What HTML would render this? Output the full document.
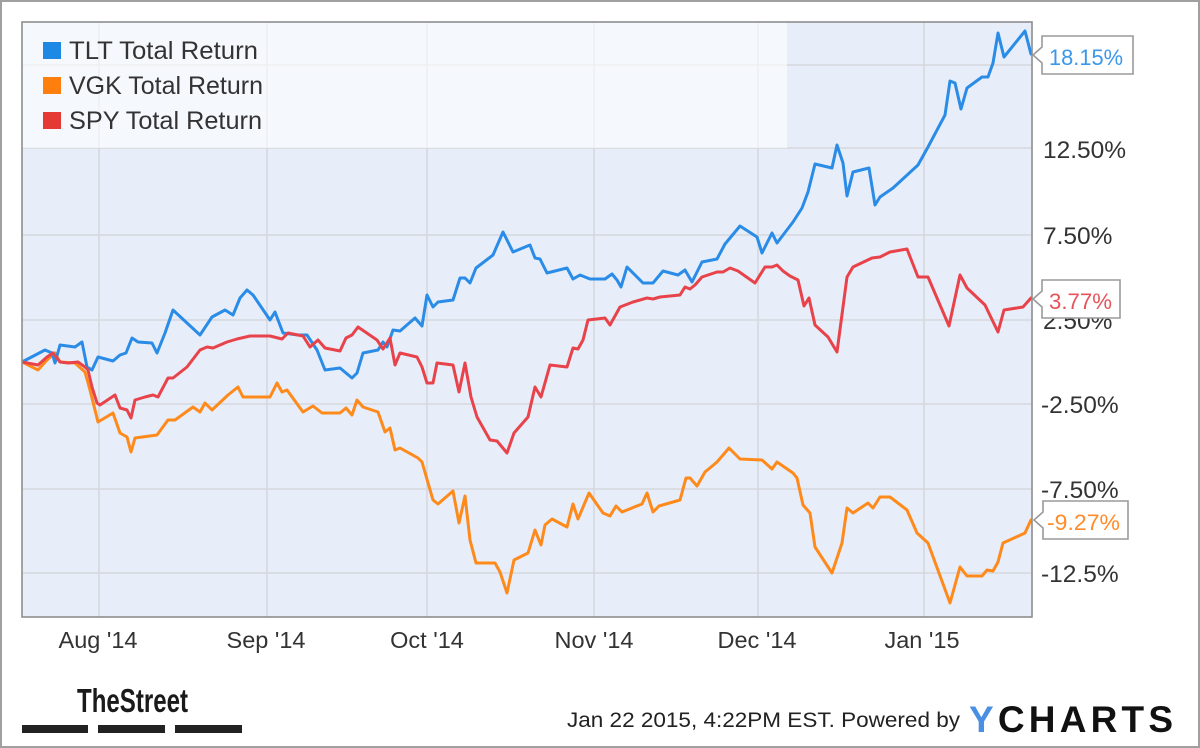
<!DOCTYPE html>
<html><head><meta charset="utf-8"><style>
html,body{margin:0;padding:0;background:#fff;}
svg{display:block;}
text{font-family:"Liberation Sans",Arial,sans-serif;}
</style></head><body>
<svg width="1200" height="748" viewBox="0 0 1200 748" xmlns="http://www.w3.org/2000/svg">
<rect x="0" y="0" width="1200" height="748" fill="#fff"/>
<rect x="1" y="1" width="1198" height="746" fill="none" stroke="#a0a0a0" stroke-width="2"/>
<defs><clipPath id="pc"><rect x="22" y="22" width="1010" height="595"/></clipPath></defs>
<rect x="22" y="22" width="1010" height="595" fill="#e7eefa"/>
<g stroke="#d6d8dc" stroke-width="1.6">
<line x1="22" y1="65" x2="1032" y2="65"/>
<line x1="22" y1="148" x2="1032" y2="148"/>
<line x1="22" y1="235" x2="1032" y2="235"/>
<line x1="22" y1="320" x2="1032" y2="320"/>
<line x1="22" y1="404" x2="1032" y2="404"/>
<line x1="22" y1="489" x2="1032" y2="489"/>
<line x1="22" y1="573" x2="1032" y2="573"/>
<line x1="99" y1="22" x2="99" y2="617"/>
<line x1="267" y1="22" x2="267" y2="617"/>
<line x1="427" y1="22" x2="427" y2="617"/>
<line x1="594" y1="22" x2="594" y2="617"/>
<line x1="758" y1="22" x2="758" y2="617"/>
<line x1="924" y1="22" x2="924" y2="617"/>
</g>
<rect x="22" y="22" width="765" height="126" fill="#ffffff" fill-opacity="0.6"/>
<g clip-path="url(#pc)" fill="none" stroke-width="3" stroke-linejoin="round" stroke-linecap="round">
<polyline stroke="#ff8a1c" points="22,362 38,370 47,360 55,353 60,362 75,363 85,372 90,390 98,422 113,413 120,433 127,437 131,452 135,438 157,435 168,420 175,420 193,407 200,412 205,403 212,410 228,395 238,387 243,397 270,397 277,383 282,392 287,390 303,412 313,406 322,413 340,413 346,408 352,415 357,400 363,407 378,412 385,432 390,428 395,450 400,448 418,458 422,462 433,500 438,504 453,491 459,523 465,496 470,540 476,563 495,563 500,572 507,593 514,560 528,553 535,530 541,545 545,525 552,519 567,527 573,504 578,519 589,493 603,513 610,516 616,506 622,512 642,504 647,493 653,512 659,506 680,500 686,478 690,478 697,486 705,472 717,462 729,448 740,459 762,460 772,469 777,462 793,473 797,478 803,505 810,513 815,547 832,573 842,543 847,508 853,513 868,503 873,508 880,497 890,497 907,510 917,533 928,543 950,603 960,567 967,576 982,576 987,570 993,571 998,562 1003,543 1025,533 1031,520"/>
<polyline stroke="#2a8ce6" points="22,362 45,350 52,353 55,363 60,345 75,347 82,342 87,367 92,370 98,357 113,361 120,355 126,353 132,338 138,342 152,343 157,353 165,333 173,310 187,323 200,335 212,317 225,310 233,315 240,298 247,290 253,295 270,320 275,312 283,333 298,335 307,335 317,350 325,370 340,368 352,378 357,373 363,353 378,350 383,342 387,347 393,330 400,331 415,318 422,326 427,295 433,307 438,302 453,300 460,278 465,278 470,283 476,268 493,255 503,232 513,252 530,245 535,258 540,259 547,273 567,268 573,279 580,275 590,279 605,279 612,274 617,280 621,287 627,267 643,283 653,283 663,271 678,275 685,270 692,282 702,262 717,259 725,244 740,226 757,237 762,253 772,233 777,243 793,222 802,208 808,192 815,164 832,168 837,145 843,163 847,196 853,172 869,168 875,205 880,197 893,188 918,165 928,147 945,115 950,81 955,83 961,109 967,88 982,77 988,77 993,63 998,33 1004,57 1025,31 1031,54"/>
<polyline stroke="#e8434a" points="22,362 38,365 47,357 53,353 60,362 68,363 78,362 85,367 88,370 92,387 97,403 100,405 115,395 120,408 127,410 131,418 135,400 145,397 153,395 158,397 168,378 173,378 187,367 200,350 207,347 213,348 227,342 237,339 250,336 270,336 282,339 288,333 303,336 310,347 318,340 325,348 340,351 346,338 352,335 358,327 377,340 383,349 390,338 395,365 400,353 417,357 422,367 427,383 433,383 437,363 453,365 459,392 465,363 471,397 477,417 490,440 497,441 507,453 514,433 528,417 535,387 541,397 550,365 567,367 573,348 578,349 583,340 588,320 605,318 610,325 620,307 633,302 647,298 653,299 660,297 680,295 685,287 690,289 695,285 702,277 717,272 723,272 730,268 738,271 755,283 765,267 772,267 777,265 783,271 790,276 798,280 804,306 809,298 815,325 828,337 837,352 847,277 853,267 872,258 880,257 890,252 907,249 918,277 928,277 949,326 960,275 967,288 985,305 998,332 1004,310 1023,307 1031,298"/>
</g>
<rect x="22" y="22" width="1010" height="595" fill="none" stroke="#8e8e8e" stroke-width="1.6"/>
<!-- legend -->
<rect x="43" y="42" width="18" height="17" fill="#1e88e5"/>
<rect x="43" y="77" width="18" height="17" fill="#ff7f0e"/>
<rect x="43" y="112" width="18" height="17" fill="#e53935"/>
<g fill="#333" font-size="25">
<text x="69" y="59" textLength="189" lengthAdjust="spacingAndGlyphs">TLT Total Return</text>
<text x="69" y="94" textLength="194" lengthAdjust="spacingAndGlyphs">VGK Total Return</text>
<text x="69" y="129" textLength="193" lengthAdjust="spacingAndGlyphs">SPY Total Return</text>
</g>
<!-- y axis labels -->
<g fill="#333" font-size="24.5">
<text x="1043" y="158">12.50%</text>
<text x="1043" y="244">7.50%</text>
<text x="1043" y="329">2.50%</text>
<text x="1041" y="413">-2.50%</text>
<text x="1041" y="498">-7.50%</text>
<text x="1041" y="582">-12.5%</text>
</g>
<!-- value boxes -->
<g fill="#fff" stroke="#9a9a9a" stroke-width="1.6">
<path d="M1042,36 H1133 V74 H1042 V63 L1033,55 L1042,47 Z"/>
<path d="M1042,280 H1120 V318 H1042 V307 L1033,299 L1042,291 Z"/>
<path d="M1043,501 H1128 V539 H1043 V528 L1034,520 L1043,512 Z"/>
</g>
<text x="1049" y="65" font-size="22" fill="#3a97ea" textLength="74" lengthAdjust="spacingAndGlyphs">18.15%</text>
<text x="1049" y="309" font-size="22" fill="#e8535a" textLength="63" lengthAdjust="spacingAndGlyphs">3.77%</text>
<text x="1047" y="530" font-size="22" fill="#ff8c2a" textLength="73" lengthAdjust="spacingAndGlyphs">-9.27%</text>
<!-- x axis labels -->
<g fill="#333" font-size="23.5" text-anchor="middle">
<text x="98" y="648">Aug '14</text>
<text x="266" y="648">Sep '14</text>
<text x="427" y="648">Oct '14</text>
<text x="594" y="648">Nov '14</text>
<text x="757" y="648">Dec '14</text>
<text x="922" y="648">Jan '15</text>
</g>
<!-- TheStreet logo -->
<text x="77" y="712" font-size="33" font-weight="bold" fill="#1a1a1a" textLength="111" lengthAdjust="spacingAndGlyphs">TheStreet</text>
<rect x="22" y="725" width="66" height="8" fill="#222"/>
<rect x="98" y="725" width="67" height="8" fill="#222"/>
<rect x="175" y="725" width="67" height="8" fill="#222"/>
<!-- footer -->
<text x="567" y="727" font-size="21" fill="#222" textLength="393" lengthAdjust="spacingAndGlyphs">Jan 22 2015, 4:22PM EST.  Powered by</text>
<text x="969" y="732" font-size="37" font-weight="bold" fill="#111" textLength="204" lengthAdjust="spacing"><tspan fill="#4a8fe3">Y</tspan>CHARTS</text>
</svg>
</body></html>
